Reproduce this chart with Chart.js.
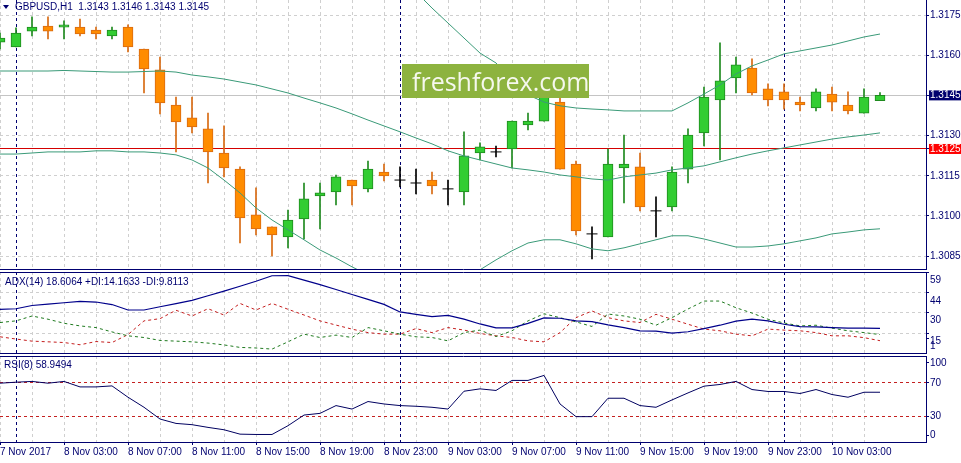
<!DOCTYPE html>
<html>
<head>
<meta charset="utf-8">
<script src="https://cdn.jsdelivr.net/npm/chart.js@4.4.1/dist/chart.umd.min.js"></script>
<style>
body { margin: 0; background: #fff; width: 961px; height: 463px; overflow: hidden; position: relative; font-family: "Liberation Sans", Arial, sans-serif; }
canvas { position: absolute; left: 0; }
.lbl { position: absolute; font-size: 10px; line-height: 12px; color: #000070; white-space: pre; }
.tri { position: absolute; left: 3px; top: 5px; width: 0; height: 0; border-left: 3.5px solid transparent; border-right: 3.5px solid transparent; border-top: 4px solid #000070; }
.banner { position: absolute; left: 402px; top: 64px; width: 177px; height: 34px; padding-left: 10px; background: #8db33f; color: #f6f8ee; font-family: "Open Sans", sans-serif; font-size: 25px; line-height: 34px; }
</style>
</head>
<body>
<canvas id="main" width="961" height="270" style="top:0px"></canvas>
<canvas id="adx" width="961" height="85" style="top:270px"></canvas>
<canvas id="rsi" width="961" height="109" style="top:354px"></canvas>
<div class="tri"></div>
<div class="lbl" style="left:15px;top:1px">GBPUSD,H1  1.3143 1.3146 1.3143 1.3145</div>
<div class="lbl" style="left:5px;top:276px">ADX(14) 18.6064 +DI:14.1633 -DI:9.8113</div>
<div class="lbl" style="left:4px;top:359px">RSI(8) 58.9494</div>
<div class="banner">freshforex.com</div>
<script>
// hourly bars, bar 0 = 7 Nov 23:00
const timeLabels = ['7 Nov 2017', '8 Nov 03:00', '8 Nov 07:00', '8 Nov 11:00', '8 Nov 15:00', '8 Nov 19:00', '8 Nov 23:00',
  '9 Nov 03:00', '9 Nov 07:00', '9 Nov 11:00', '9 Nov 15:00', '9 Nov 19:00', '9 Nov 23:00', '10 Nov 03:00'];
const dayStarts = [1, 25, 49];

const opens = [1.31649,1.31631,1.31690,1.31709,1.31705,1.31705,1.31694,1.31672,1.31705,1.31623,
  1.31545,1.31414,1.31366,1.31325,1.31235,1.31175,1.31004,1.30959,1.30922,1.30989,
  1.31075,1.31090,1.31134,1.31101,1.31164,1.31134,1.31123,1.31134,1.31101,1.31090,
  1.31235,1.31239,1.31250,1.31340,1.31354,1.31425,1.31194,1.30933,1.30922,1.31179,
  1.31183,1.31019,1.31034,1.31175,1.31310,1.31433,1.31515,1.31552,1.31474,1.31463,
  1.31425,1.31403,1.31455,1.31414,1.31384,1.31430];
const highs = [1.31683,1.31702,1.31743,1.31743,1.31728,1.31735,1.31705,1.31705,1.31713,1.31623,
  1.31593,1.31444,1.31444,1.31384,1.31336,1.31183,1.31105,1.30959,1.31022,1.31123,
  1.31123,1.31153,1.31134,1.31205,1.31194,1.31183,1.31175,1.31164,1.31134,1.31314,
  1.31273,1.31261,1.31354,1.31384,1.31478,1.31444,1.31205,1.30959,1.31250,1.31302,
  1.31235,1.31071,1.31183,1.31325,1.31481,1.31646,1.31593,1.31586,1.31493,1.31493,
  1.31444,1.31474,1.31481,1.31463,1.31474,1.31460];
const lows = [1.31623,1.31631,1.31672,1.31661,1.31661,1.31672,1.31661,1.31661,1.31612,1.31459,
  1.31381,1.31239,1.31310,1.31123,1.31146,1.30899,1.30929,1.30851,1.30881,1.30914,
  1.30952,1.31041,1.31041,1.31090,1.31131,1.31108,1.31082,1.31082,1.31041,1.31041,
  1.31209,1.31220,1.31179,1.31321,1.31354,1.31175,1.30929,1.30840,1.30922,1.31049,
  1.31019,1.30922,1.31019,1.31123,1.31261,1.31209,1.31459,1.31452,1.31411,1.31399,
  1.31392,1.31392,1.31392,1.31381,1.31384,1.31430];
const closes = [1.31664,1.31683,1.31705,1.31690,1.31713,1.31679,1.31679,1.31694,1.31631,1.31549,
  1.31422,1.31351,1.31332,1.31239,1.31179,1.30993,1.30952,1.30929,1.30985,1.31064,
  1.31086,1.31146,1.31112,1.31175,1.31149,1.31134,1.31123,1.31112,1.31101,1.31224,
  1.31258,1.31239,1.31354,1.31354,1.31448,1.31175,1.30944,1.30933,1.31194,1.31194,
  1.31034,1.31019,1.31164,1.31302,1.31444,1.31504,1.31564,1.31459,1.31433,1.31433,
  1.31414,1.31463,1.31425,1.31392,1.31444,1.31450];

const bbUpper = [1.31851,1.31851,1.31847,1.31843,1.31847,1.31843,1.31836,1.31832,1.31836,1.31840,
  1.31847,1.31847,1.31843,1.31858,1.31888,1.31914,1.31948,1.31963,1.31970,1.31970,
  1.31970,1.31963,1.31952,1.31937,1.31918,1.31881,1.31836,1.31776,1.31720,1.31664,
  1.31608,1.31571,1.31508,1.31452,1.31425,1.31411,1.31403,1.31399,1.31396,1.31392,
  1.31392,1.31392,1.31392,1.31422,1.31455,1.31489,1.31530,1.31560,1.31582,1.31605,
  1.31616,1.31627,1.31638,1.31653,1.31668,1.31679];
const bbMiddle = [1.31541,1.31541,1.31541,1.31541,1.31543,1.31541,1.31539,1.31537,1.31537,1.31539,
  1.31541,1.31537,1.31526,1.31519,1.31511,1.31500,1.31489,1.31474,1.31459,1.31440,
  1.31422,1.31403,1.31381,1.31358,1.31336,1.31314,1.31291,1.31269,1.31243,1.31224,
  1.31209,1.31194,1.31179,1.31172,1.31164,1.31153,1.31146,1.31138,1.31134,1.31146,
  1.31153,1.31160,1.31172,1.31179,1.31187,1.31202,1.31217,1.31231,1.31243,1.31254,
  1.31265,1.31276,1.31287,1.31295,1.31302,1.31310];
const bbLower = [1.31231,1.31231,1.31235,1.31239,1.31239,1.31239,1.31243,1.31243,1.31239,1.31239,
  1.31235,1.31228,1.31209,1.31179,1.31134,1.31086,1.31030,1.30985,1.30948,1.30911,
  1.30873,1.30843,1.30810,1.30780,1.30754,1.30731,1.30716,1.30716,1.30731,1.30761,
  1.30799,1.30836,1.30870,1.30899,1.30911,1.30911,1.30896,1.30877,1.30870,1.30881,
  1.30896,1.30911,1.30926,1.30926,1.30914,1.30899,1.30884,1.30884,1.30888,1.30896,
  1.30907,1.30918,1.30933,1.30940,1.30948,1.30952];

const adx = [32.3,32.7,35.0,36.0,37.0,38.0,37.5,35.7,31.8,31.8,
  34.1,36.4,38.7,42.0,45.3,48.8,52.4,56.3,56.4,53.2,
  50.0,46.5,42.9,39.4,35.8,30.4,28.7,27.0,28.0,25.2,
  21.8,19.0,19.0,22.2,26.1,25.9,24.0,23.5,21.1,19.2,
  16.9,16.7,15.2,16.2,18.5,20.9,23.8,25.2,24.0,21.6,
  19.9,19.7,19.2,18.8,18.8,18.6];
const plusDI = [22.8,24.0,27.5,25.2,22.3,20.4,19.2,16.1,13.3,12.1,
  10.0,9.5,9.0,8.1,6.8,5.0,4.6,3.8,9.0,14.5,
  12.1,13.8,12.1,19.2,16.9,14.5,12.6,12.1,9.7,15.6,
  17.4,12.8,16.9,24.0,29.1,26.3,23.3,20.0,28.9,27.5,
  25.2,20.9,26.3,32.5,38.2,38.2,33.4,29.6,25.2,22.5,
  20.4,20.9,18.8,16.9,15.6,14.2];
const minusDI = [12.6,11.0,9.5,9.0,8.5,6.9,9.2,8.5,14.2,24.0,
  25.6,31.6,27.5,32.7,28.2,36.5,31.8,36.5,32.3,28.2,
  24.0,21.0,18.1,15.6,14.5,14.5,18.5,15.6,19.2,17.4,
  15.0,13.3,12.1,9.7,9.0,15.6,26.3,31.1,26.3,24.0,
  22.8,28.7,25.2,21.6,18.1,16.9,14.5,13.3,18.1,17.4,
  16.9,15.6,13.3,13.3,12.0,9.8];
const rsi = [69.6,70.8,71.7,69.6,71.7,65.2,65.2,66.4,53.0,41.1,
  27.2,22.0,20.5,17.3,14.5,9.3,8.9,8.9,19.3,31.9,
  33.9,43.1,39.0,47.9,45.0,43.1,42.3,41.1,39.0,60.1,
  62.9,61.0,72.9,72.9,78.8,45.0,30.0,30.0,51.8,51.8,
  43.1,41.1,49.8,58.1,66.1,68.1,71.7,62.1,59.8,59.8,
  57.4,62.1,56.2,53.0,58.9,58.9];

const priceTicks = [1.3085, 1.3100, 1.3115, 1.3125, 1.3130, 1.3145, 1.3160, 1.3175];
const bidPrice = 1.3145;
const levelPrice = 1.3125;
const adxTicks = [59, 44, 30, 15];
const rsiLevels = [70, 30];

const NAVY = '#000070';
const GRID = '#cfcfcf';
const NONE = 'rgba(0,0,0,0)';
const UP_FILL = '#32cd32', UP_EDGE = '#1f8a1f';
const DN_FILL = '#ff8c00', DN_EDGE = '#d86a12';
const X_MAX = 57.875;   // 926px of plot at 16px per bar

Chart.defaults.font.family = '"Liberation Sans", Arial, sans-serif';
Chart.defaults.font.size = 10;
Chart.defaults.color = NAVY;

const idx = closes.map((c, i) => i);
const hourTicks = [];
for (let i = 0; i < 58; i++) hourTicks.push(i);

function edgeColor(i) {
  if (closes[i] > opens[i]) return UP_EDGE;
  if (closes[i] < opens[i]) return DN_EDGE;
  return '#000';
}
function xGridColor(c) {
  const v = c.tick.value;
  if (dayStarts.includes(v)) return NAVY;
  return v % 2 === 0 ? GRID : NONE;
}

function bottomX(withLabels, height) {
  return {
    type: 'linear', min: 0, max: X_MAX, offset: false,
    afterBuildTicks: s => { s.ticks = hourTicks.map(v => ({ value: v })); },
    afterFit: s => { s.height = height; s.paddingLeft = 0; s.paddingRight = 0; },
    grid: {
      offset: false, color: xGridColor, drawTicks: withLabels, tickLength: 3,
      tickColor: c => (c.tick.value % 4 === 0 ? NAVY : NONE)
    },
    border: { display: true, color: NAVY, dash: [3, 3] },
    ticks: {
      display: withLabels, autoSkip: false, maxRotation: 0, minRotation: 0, align: 'start', padding: 1,
      color: NAVY, callback: v => (v % 4 === 0 ? timeLabels[v / 4] : '')
    }
  };
}
function topX() {
  return {
    type: 'linear', position: 'top', min: 0, max: X_MAX,
    afterFit: s => { s.height = 0; },
    grid: { display: false }, ticks: { display: false },
    border: { display: true, color: NAVY }
  };
}
function rightY(min, max, ticks, labelFn, gridFn) {
  return {
    type: 'linear', position: 'right', min: min, max: max,
    afterBuildTicks: s => { s.ticks = ticks.map(v => ({ value: v })); },
    afterFit: s => { s.width = 35; s.paddingTop = 0; s.paddingBottom = 0; },
    grid: { color: gridFn, drawTicks: true, tickLength: 3, tickColor: NAVY },
    border: { display: true, color: NAVY, dash: [3, 3] },
    ticks: { autoSkip: false, padding: 1, color: NAVY, callback: labelFn }
  };
}
const common = {
  responsive: false, animation: false, events: [],
  plugins: { legend: { display: false }, tooltip: { enabled: false } }
};

// price chart
const bodyIdx = idx.filter(i => opens[i] !== closes[i]);
const dojiIdx = idx.filter(i => opens[i] === closes[i]);
const bbLine = (arr) => ({
  type: 'line', data: idx.map(i => ({ x: i, y: arr[i] })), borderColor: '#3a9a78', borderWidth: 1,
  pointRadius: 0, tension: 0, order: 0
});

const mainY = rightY(1.30802, 1.31806, priceTicks, v => v.toFixed(4),
  c => (c.tick.value === bidPrice || c.tick.value === levelPrice ? NONE : GRID));
mainY.ticks.color = c => (c.tick.value === bidPrice || c.tick.value === levelPrice ? '#fff' : NAVY);
mainY.ticks.showLabelBackdrop = true;
mainY.ticks.backdropColor = c => (c.tick.value === bidPrice ? '#00006e' : c.tick.value === levelPrice ? '#ff0000' : NONE);
mainY.ticks.backdropPadding = { left: 1, right: 6, top: -1, bottom: -1 };

new Chart(document.getElementById('main'), {
  type: 'line',
  data: {
    datasets: [
      bbLine(bbUpper), bbLine(bbMiddle), bbLine(bbLower),
      {
        type: 'bar', data: idx.map(i => ({ x: i, y: [lows[i], highs[i]] })),
        backgroundColor: idx.map(edgeColor), barThickness: 1, grouped: false, order: 2
      },
      {
        type: 'bar', data: bodyIdx.map(i => ({ x: i, y: [Math.min(opens[i], closes[i]), Math.max(opens[i], closes[i])] })),
        backgroundColor: bodyIdx.map(i => (closes[i] > opens[i] ? UP_FILL : DN_FILL)),
        borderColor: bodyIdx.map(edgeColor), borderWidth: 1, borderSkipped: false,
        barThickness: 10, grouped: false, order: 1
      },
      {
        type: 'scatter', data: dojiIdx.map(i => ({ x: i, y: closes[i] })),
        pointStyle: 'line', pointRadius: 5.5, borderColor: '#000', borderWidth: 1, order: 1
      }
    ]
  },
  options: Object.assign({}, common, {
    layout: { autoPadding: false, padding: { top: 0, bottom: 1, left: 0, right: 0 } },
    scales: {
      x: bottomX(false, 0),
      y: mainY,
      yl: {
        type: 'linear', position: 'right', min: 1.30802, max: 1.31806,
        afterBuildTicks: s => { s.ticks = [levelPrice, bidPrice].map(v => ({ value: v })); },
        afterFit: s => { s.width = 0; s.paddingTop = 0; s.paddingBottom = 0; },
        grid: { drawTicks: false, color: c => (c.tick.value === levelPrice ? '#d40000' : '#c4c4c4') },
        border: { display: false }, ticks: { display: false }
      }
    }
  })
});

// ADX(14)
const adxY = rightY(1, 59, adxTicks.concat([11.4]), v => (v === 11.4 ? '1' : String(v)),
  c => ([44, 30, 15].includes(c.tick.value) ? GRID : NONE));
adxY.ticks.labelOffset = 8;
new Chart(document.getElementById('adx'), {
  type: 'line',
  data: {
    datasets: [
      { data: idx.map(i => ({ x: i, y: adx[i] })), borderColor: '#00008b', borderWidth: 1.2, pointRadius: 0, tension: 0 },
      { data: idx.map(i => ({ x: i, y: plusDI[i] })), borderColor: '#1f7a1f', borderWidth: 1, borderDash: [3, 3], pointRadius: 0, tension: 0 },
      { data: idx.map(i => ({ x: i, y: minusDI[i] })), borderColor: '#c41e1e', borderWidth: 1, borderDash: [3, 3], pointRadius: 0, tension: 0 }
    ]
  },
  options: Object.assign({}, common, {
    layout: { autoPadding: false, padding: { top: 2, bottom: 2, left: 0, right: 0 } },
    scales: { x: bottomX(false, 0), xt: topX(), y: adxY }
  })
});

// RSI(8)
const rsiY = rightY(0, 101.8, [7.4, 30, 70, 93.8],
  v => (v === 93.8 ? '100' : v === 7.4 ? '0' : String(v)),
  c => (rsiLevels.includes(c.tick.value) ? '#c42020' : NONE));
new Chart(document.getElementById('rsi'), {
  type: 'line',
  data: {
    datasets: [
      { data: idx.map(i => ({ x: i, y: rsi[i] })), borderColor: '#000060', borderWidth: 1, pointRadius: 0, tension: 0 }
    ]
  },
  options: Object.assign({}, common, {
    layout: { autoPadding: false, padding: { top: 2, bottom: 0, left: 0, right: 0 } },
    scales: { x: bottomX(true, 21), xt: topX(), y: rsiY }
  })
});
</script>
</body>
</html>
